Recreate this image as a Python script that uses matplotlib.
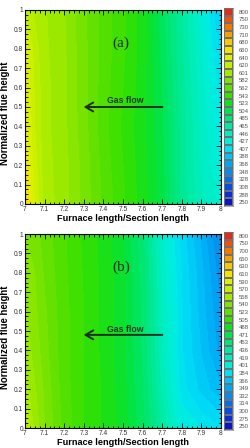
import numpy as np
import matplotlib
matplotlib.use("Agg")
import matplotlib.pyplot as plt
from matplotlib.colors import ListedColormap, to_rgb
from matplotlib.ticker import MultipleLocator, FuncFormatter

# ---------------- data ----------------
x_pos = [7.0, 7.05, 7.1, 7.2, 7.3, 7.4, 7.5, 7.6, 7.7, 7.8, 7.9, 8.0]
y_pos = [0.0, 0.2, 0.4, 0.6, 0.8, 1.0]

temp_a = [
    [668, 628, 606, 596, 578, 560, 545, 528, 508, 472, 448, 435],
    [655, 624, 605, 595, 578, 558, 543, 527, 507, 470, 445, 425],
    [645, 620, 604, 594, 576, 556, 541, 526, 505, 470, 443, 418],
    [642, 618, 604, 594, 575, 557, 543, 527, 503, 468, 440, 412],
    [638, 615, 603, 593, 575, 558, 545, 528, 500, 466, 436, 402],
    [618, 608, 602, 592, 574, 558, 545, 528, 498, 464, 430, 392],
]
temp_b = [
    [572, 556, 540, 520, 505, 495, 485, 465, 435, 400, 392, 385],
    [562, 550, 538, 518, 505, 495, 483, 462, 425, 388, 372, 358],
    [555, 545, 535, 517, 505, 494, 482, 460, 420, 385, 365, 345],
    [550, 542, 533, 517, 505, 494, 482, 460, 418, 385, 362, 340],
    [545, 540, 530, 516, 504, 494, 482, 458, 415, 383, 360, 335],
    [540, 535, 528, 515, 503, 493, 480, 455, 410, 380, 355, 328],
]

levels_a = [250, 288, 308, 328, 348, 368, 388, 407, 427, 446, 465, 485, 504,
            523, 543, 562, 582, 601, 620, 640, 660, 680, 710, 730, 750, 800]
levels_b = [250, 275, 300, 314, 332, 349, 366, 384, 401, 419, 436, 453, 471,
            488, 505, 523, 540, 558, 570, 590, 610, 630, 650, 700, 750, 800]

band_colors = ["#0a14c8", "#0a30d8", "#0a4ee0", "#0a6ce6", "#0a8aee", "#00a8f4",
               "#00c4f8", "#00e0f4", "#00eedc", "#00eec0", "#00eaa0", "#00e67a",
               "#00e450", "#10e020", "#36e000", "#5ce000", "#80e400", "#a4ea00",
               "#c4f000", "#e0f000", "#f4e400", "#f8c800", "#f8a000", "#f47800",
               "#f05010", "#e82818"]

x_ticks = [7.0, 7.1, 7.2, 7.3, 7.4, 7.5, 7.6, 7.7, 7.8, 7.9, 8.0]
y_ticks = [0.0, 0.1, 0.2, 0.3, 0.4, 0.5, 0.6, 0.7, 0.8, 0.9, 1.0]

panels = [
    dict(temp=temp_a, levels=levels_a, tag="(a)", arrow_y=0.50, text_y=0.535,
         ax_rect=[25, 204], cb_rect=[224, 206]),
    dict(temp=temp_b, levels=levels_b, tag="(b)", arrow_y=0.48, text_y=0.51,
         ax_rect=[25, 428], cb_rect=[224, 430]),
]

W, H = 251, 448
fig = plt.figure(figsize=(W / 100, H / 100), dpi=100)
fig.patch.set_facecolor("white")

rgb = np.array([to_rgb(c) for c in band_colors])
SUB = 2  # soften the flood by sub-dividing each legend interval


def fine_levels_and_colors(levels):
    lv, cols = [], []
    for i in range(len(levels) - 1):
        for k in range(SUB):
            t = k / SUB
            lv.append(levels[i] + t * (levels[i + 1] - levels[i]))
            tc = (k + 0.5) / SUB
            cols.append(tuple(rgb[i] * (1 - tc) + rgb[i + 1] * tc))
    lv.append(levels[-1])
    return lv, cols


fmt = FuncFormatter(lambda v, p: f"{v:g}")

for p in panels:
    left, bottom = p["ax_rect"]
    ax = fig.add_axes([left / W, 1 - bottom / H, 196 / W, 194 / H])
    X, Y = np.meshgrid(x_pos, y_pos)
    Z = np.array(p["temp"], dtype=float)
    lv, cols = fine_levels_and_colors(p["levels"])
    ax.contourf(X, Y, Z, levels=lv, colors=cols, antialiased=False)
    ax.set_xlim(7, 8)
    ax.set_ylim(0, 1)
    ax.set_xticks(x_ticks)
    ax.set_yticks(y_ticks)
    ax.xaxis.set_major_formatter(fmt)
    ax.yaxis.set_major_formatter(fmt)
    ax.xaxis.set_minor_locator(MultipleLocator(0.025))
    ax.yaxis.set_minor_locator(MultipleLocator(0.025))
    ax.tick_params(which="both", direction="in", top=True, right=True,
                   width=0.6, colors="black", labelcolor="#333333",
                   labelsize=4.8, pad=1.5)
    ax.tick_params(which="major", length=3.5)
    ax.tick_params(which="minor", length=1.8)
    for s in ax.spines.values():
        s.set_linewidth(0.8)
        s.set_color("black")
    ax.set_xlabel("Furnace length/Section length", fontsize=6.6,
                  fontweight="bold", family="Liberation Sans", labelpad=1.0)
    ax.set_ylabel("Normalized flue height", fontsize=6.9,
                  fontweight="bold", family="Liberation Sans")
    ax.yaxis.set_label_coords(-0.078, 0.47)
    for lab in ax.get_xticklabels() + ax.get_yticklabels():
        lab.set_family("Liberation Sans")

    ax.text(7.49, 0.83, p["tag"], fontsize=11, family="Liberation Serif",
            color="#2a2a2a", ha="center", va="center")
    ax.annotate("", xy=(7.285, p["arrow_y"]), xytext=(7.715, p["arrow_y"]),
                arrowprops=dict(arrowstyle="->,head_length=0.55,head_width=0.32",
                                color="#1e2e1e", lw=1.4))
    ax.text(7.51, p["text_y"], "Gas flow", fontsize=6.3, fontweight="bold",
            family="Liberation Sans", color="#1e3a1e", ha="center", va="center")

    # legend bar
    cl, cb = p["cb_rect"]
    cax = fig.add_axes([cl / W, 1 - cb / H, 9 / W, 198 / H])
    n = len(p["levels"])
    cax.pcolormesh(np.arange(2), np.arange(n + 1) - 0.5,
                   np.arange(n).reshape(n, 1), cmap=ListedColormap(band_colors),
                   vmin=-0.5, vmax=n - 0.5, edgecolors="#707070", linewidth=0.2)
    cax.set_xlim(0, 1)
    cax.set_ylim(-0.5, n - 0.5)
    cax.set_xticks([])
    cax.yaxis.tick_right()
    cax.set_yticks(np.arange(n))
    cax.set_yticklabels([str(v) for v in p["levels"]])
    cax.tick_params(axis="y", length=0, labelsize=4.3, labelcolor="#555555", pad=4)
    for lab in cax.get_yticklabels():
        lab.set_family("Liberation Sans")
    for s in cax.spines.values():
        s.set_linewidth(0.4)
        s.set_color("#707070")

fig.savefig("out.png", dpi=100)
